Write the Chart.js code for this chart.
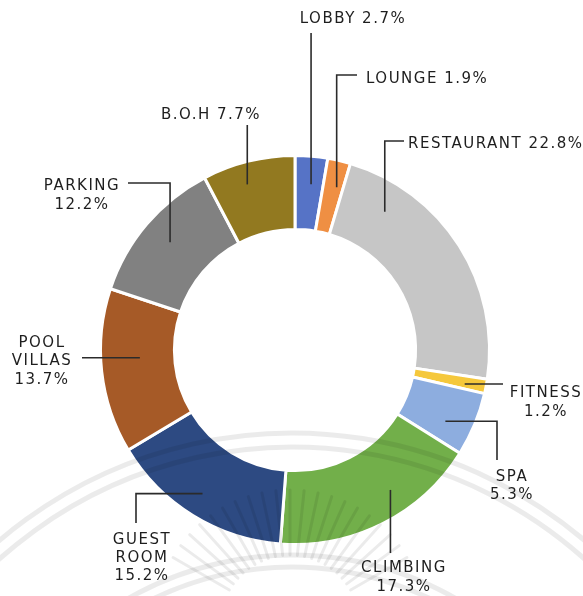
<!DOCTYPE html>
<html>
<head>
<meta charset="utf-8">
<script src="https://cdn.jsdelivr.net/npm/chart.js@4.4.0/dist/chart.umd.min.js"></script>
<style>
  html, body { margin: 0; padding: 0; background: #fff; }
  #wrap { width: 583px; height: 596px; position: relative; }
</style>
</head>
<body>
<div id="wrap"><canvas id="areaChart"></canvas></div>
<script>
// Share of floor area by zone (%)
var categories = ['LOBBY', 'LOUNGE', 'RESTAURANT', 'FITNESS', 'SPA', 'CLIMBING', 'GUEST ROOM', 'POOL VILLAS', 'PARKING', 'B.O.H'];
var shares = [2.7, 1.9, 22.8, 1.2, 5.3, 17.3, 15.2, 13.7, 12.2, 7.7];
var sliceColors = ['#5673c6', '#ef8f43', '#c6c6c6', '#f5c83c', '#8daddf', '#72af4a', '#2d4a82', '#a65a27', '#818181', '#927920'];

// callout placement: t = position along the slice, r = position across the ring,
// path = leader segments ('v' to y, 'h' to x), stacked = one word per line
var callouts = [
  { t: .57, r: .62, path: [['v', 33]], x: 353, y: [19] },
  { t: .68, r: .64, path: [['v', 75], ['h', 357]], x: 366, y: [79], align: 'left' },
  { t: .20, r: .60, path: [['v', 141], ['h', 404]], x: 408, y: [144], align: 'left' },
  { t: .62, r: .71, path: [['h', 503]], x: 546, y: [393, 412], stacked: true },
  { t: .65, r: .62, path: [['h', 497], ['v', 460]], x: 512, y: [477, 495], stacked: true },
  { t: .38, r: .66, path: [['v', 553]], x: 404, y: [568, 587], stacked: true },
  { t: .52, r: .68, path: [['h', 136], ['v', 523]], x: 142, y: [540, 558, 576], stacked: true },
  { t: .57, r: .47, path: [['h', 82]], x: 42, y: [343, 361, 380], stacked: true },
  { t: .51, r: .60, path: [['v', 183], ['h', 128]], x: 82, y: [186, 205], stacked: true },
  { t: .42, r: .70, path: [['v', 125]], x: 211, y: [115] }
];

// faint seal printed behind the lower half of the page
function drawSeal(ctx) {
  ctx.save();
  ctx.lineCap = 'round';
  ctx.strokeStyle = 'rgba(0,0,0,0.08)';
  ctx.lineWidth = 5;
  [452, 438, 330, 318].forEach(function (r) {
    ctx.beginPath();
    ctx.arc(292, 885, r, Math.PI * 1.05, Math.PI * 1.95);
    ctx.stroke();
  });
  ctx.lineWidth = 3;
  for (var a = -150; a <= -30; a += 6) {
    var rad = a * Math.PI / 180;
    ctx.beginPath();
    ctx.moveTo(290 + Math.cos(rad) * 70, 625 + Math.sin(rad) * 70);
    ctx.lineTo(290 + Math.cos(rad) * 135, 625 + Math.sin(rad) * 135);
    ctx.stroke();
  }
  ctx.restore();
}

var calloutPlugin = {
  id: 'callouts',
  afterDatasetsDraw: function (chart) {
    var ctx = chart.ctx;
    var arcs = chart.getDatasetMeta(0).data;
    drawSeal(ctx);
    ctx.save();
    ctx.strokeStyle = '#2b2b2b';
    ctx.lineWidth = 1.6;
    ctx.fillStyle = '#1e1e1e';
    ctx.font = '15px "DejaVu Sans"';
    ctx.letterSpacing = '1.5px';
    ctx.textBaseline = 'middle';
    arcs.forEach(function (arc, i) {
      var c = callouts[i];
      var p = arc.getProps(['x', 'y', 'startAngle', 'endAngle', 'innerRadius', 'outerRadius'], true);
      var ang = p.startAngle + (p.endAngle - p.startAngle) * c.t;
      var rr = p.innerRadius + (p.outerRadius - p.innerRadius) * c.r;
      var px = p.x + Math.cos(ang) * rr, py = p.y + Math.sin(ang) * rr;
      ctx.beginPath();
      ctx.moveTo(px, py);
      c.path.forEach(function (seg) {
        if (seg[0] === 'v') py = seg[1]; else px = seg[1];
        ctx.lineTo(px, py);
      });
      ctx.stroke();
      var value = shares[i].toFixed(1) + '%';
      var lines = c.stacked ? categories[i].split(' ').concat([value]) : [categories[i] + ' ' + value];
      ctx.textAlign = c.align || 'center';
      lines.forEach(function (txt, k) { ctx.fillText(txt, c.x, c.y[k]); });
    });
    ctx.restore();
  }
};

var areaChart = new Chart(document.getElementById('areaChart').getContext('2d'), {
  type: 'doughnut',
  data: {
    labels: categories,
    datasets: [{
      data: shares,
      backgroundColor: sliceColors,
      borderColor: '#ffffff',
      borderWidth: 3
    }]
  },
  options: {
    responsive: true,
    maintainAspectRatio: false,
    animation: false,
    cutout: '62%',
    layout: { padding: { top: 154, bottom: 50, left: 99, right: 92 } },
    plugins: { legend: { display: false }, tooltip: { enabled: false } }
  },
  plugins: [calloutPlugin]
});
</script>
</body>
</html>
